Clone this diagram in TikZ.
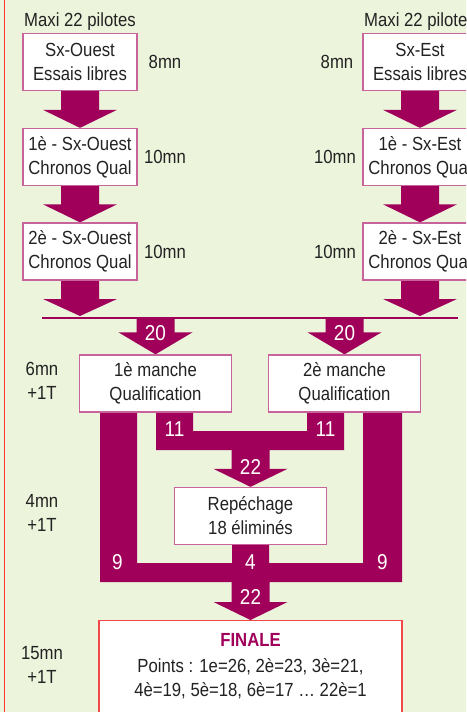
\documentclass[tikz,border=0pt]{standalone}
\usepackage{fontspec}
\setmainfont[FakeStretch=0.88]{Liberation Sans}
\usetikzlibrary{calc}
\definecolor{bgc}{RGB}{236,244,220}
\definecolor{mag}{RGB}{160,0,90}
\definecolor{boxline}{RGB}{200,100,155}
\definecolor{finline}{RGB}{240,72,72}
\definecolor{txt}{RGB}{34,34,34}
\pgfdeclarelayer{bgl}
\pgfdeclarelayer{back}
\pgfsetlayers{bgl,back,main}
% #1 start, #2 tip, #3 head length
\newcommand\fatarrow[3]{%
  \fill[mag] ($(#1)+(-19,0)$) -- ($(#2)+(-19,-#3)$) -- ($(#2)+(-37,-#3)$) -- (#2)
    -- ($(#2)+(37,-#3)$) -- ($(#2)+(19,-#3)$) -- ($(#1)+(19,0)$) -- cycle;}
\begin{document}
\begin{tikzpicture}[x=1pt,y=-1pt,
  every node/.style={font=\fontsize{19}{24}\selectfont, text=txt, inner sep=0pt},
  stagebox/.style={draw=boxline, line width=1.3pt, fill=white, minimum width=114, minimum height=57, align=center},
  widebox/.style={stagebox, minimum width=152},
  finbox/.style={draw=finline, line width=1.3pt, fill=white, minimum width=303, minimum height=110},
  lbl/.style={align=center},
  wlbl/.style={text=white, font=\fontsize{21.5}{24}\selectfont}]
\clip (0,0) rectangle (466,712);
\begin{pgfonlayer}{bgl}
\fill[bgc] (0,0) rectangle (466,712);
\draw[red!80, line width=1pt] (4,0) -- (4,712);
\end{pgfonlayer}

% headings
\node (maxL) at (80,21.5) {Maxi 22 pilotes};
\node (maxR) at (420,21.5) {Maxi 22 pilotes};

% left column
\node[stagebox] (o1) at (80,62) {Sx-Ouest\\Essais libres};
\node[stagebox] (o2) at (80,157) {1è - Sx-Ouest\\Chronos Qual};
\node[stagebox] (o3) at (80,251.5) {2è - Sx-Ouest\\Chronos Qual};
\node (t1) at (165,62) {8mn};
\node (t2) at (165,157) {10mn};
\node (t3) at (165,251.5) {10mn};

% right column
\node[stagebox] (e1) at (420,62) {Sx-Est\\Essais libres};
\node[stagebox] (e2) at (420,157) {1è - Sx-Est\\Chronos Qual};
\node[stagebox] (e3) at (420,251.5) {2è - Sx-Est\\Chronos Qual};
\node (u1) at (337,62) {8mn};
\node (u2) at (335,157) {10mn};
\node (u3) at (335,251.5) {10mn};

% merge line
\coordinate (hlL) at (80,316);
\coordinate (hlR) at (420,316);
\coordinate (hs1) at (155.5,318);
\coordinate (hs2) at (344.5,318);
\draw[mag, line width=2.6pt] (42,318) -- (458,318);

% qualification heats
\node[widebox] (m1) at (155.5,383.5) {1è manche\\Qualification};
\node[widebox] (m2) at (344.5,383.5) {2è manche\\Qualification};
\node[lbl] (d1) at (42,380.5) {6mn\\+1T};

% repechage
\node[widebox] (rep) at (250.5,516) {Repéchage\\18 éliminés};
\node[lbl] (d2) at (42,512.5) {4mn\\+1T};

% final
\node[finbox, anchor=north] (fin) at (250.5,620) {};
\node[lbl] (fintxt) at (250.5,666) {\textcolor{mag}{\bfseries FINALE}\\[2pt]Points : 1e=26, 2è=23, 3è=21,\\4è=19, 5è=18, 6è=17 … 22è=1};
\node[lbl] (d3) at (42,664.5) {15mn\\+1T};

\coordinate (u11) at (250.5,450);
\coordinate (u4) at (250.5,582);

\begin{pgfonlayer}{back}
\fatarrow{o1.south}{o2.north}{18}
\fatarrow{o2.south}{o3.north}{18}
\fatarrow{o3.south}{hlL}{17}
\fatarrow{e1.south}{e2.north}{18}
\fatarrow{e2.south}{e3.north}{18}
\fatarrow{e3.south}{hlR}{17}
\fatarrow{hs1}{m1.north}{22}
\fatarrow{hs2}{m2.north}{22}
% 11 + 11 -> repechage
\fill[mag] (156,412) -- (156,450) -- (344,450) -- (344,412) -- (307,412) -- (307,431)
  -- (193,431) -- (193,412) -- cycle;
\fatarrow{u11}{rep.north}{18}
% 9 + 4 + 9 -> finale
\fill[mag] (100,412) -- (100,582) -- (402,582) -- (402,412) -- (363,412) -- (363,563)
  -- (269,563) -- (269,544) -- (232,544) -- (232,563) -- (137,563) -- (137,412) -- cycle;
\fatarrow{u4}{fin.north}{18}
\end{pgfonlayer}

% white counts
\node[wlbl] (n20a) at (155.5,333) {20};
\node[wlbl] (n20b) at (344.5,333) {20};
\node[wlbl] (n11a) at (174.5,429) {11};
\node[wlbl] (n11b) at (325.5,429) {11};
\node[wlbl] (n22a) at (250.5,467) {22};
\node[wlbl] (n9a) at (117.5,562) {9};
\node[wlbl] (n4) at (250.5,562) {4};
\node[wlbl] (n9b) at (382.5,562) {9};
\node[wlbl] (n22b) at (250.5,597) {22};
\end{tikzpicture}
\end{document}
